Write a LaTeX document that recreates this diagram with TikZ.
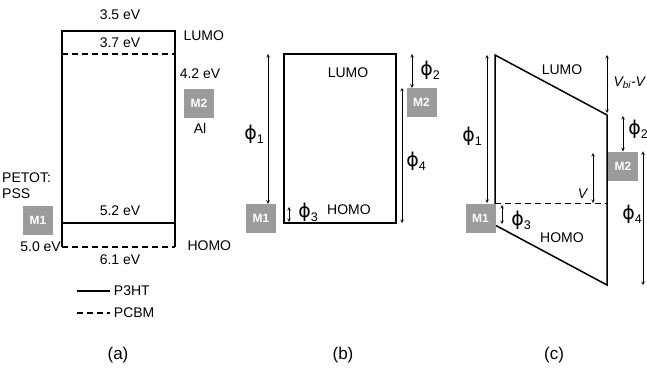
\documentclass[tikz,border=0pt]{standalone}
\usepackage{fontspec}
\setmainfont{Liberation Sans}
\newfontfamily\phifont{DejaVu Sans}
\usepackage{xcolor}
\definecolor{metalgray}{RGB}{155,155,155}
\newcommand{\wf}[1]{{\phifont\fontsize{19}{21}\selectfont ϕ}\raisebox{-4pt}{\fontsize{12.5}{14}\selectfont #1}}

\begin{document}
\begin{tikzpicture}[x=1pt, y=-1pt,
  every node/.style={font=\fontsize{14}{16}\selectfont},
  level/.style={line width=1.5pt},
  pcbm/.style={line width=1.3pt, dash pattern=on 6pt off 4pt},
  gap/.style={<->, >=stealth, line width=0.6pt},
  caption/.style={font=\fontsize{17}{20}\selectfont},
  metal/.style={fill=metalgray, text=white, font=\fontsize{12}{14}\selectfont\bfseries,
    minimum width=30pt, minimum height=29pt, inner sep=0pt}]
  \useasboundingbox (0,0) rectangle (647,369);

  % (a) Рівні енергії окремих матеріалів
  \coordinate (aTL) at (62,31);
  \coordinate (aTR) at (175,31);
  \coordinate (aBL) at (62,247);
  \coordinate (aBR) at (175,247);
  \draw[level] (aBL) -- (aTL) -- (aTR) -- (aBR);
  \draw[level] (aTL |- 0,223) coordinate (aHL) -- (aTR |- 0,223) coordinate (aHR);
  \draw[pcbm] (aTL |- 0,54) coordinate (aLL) -- (aTR |- 0,54) coordinate (aLR);
  \draw[pcbm] (aBL) -- (aBR);

  \node (e35) at (120,15) {3.5 eV};
  \node (e37) at (120,43) {3.7 eV};
  \node (e52) at (120,211) {5.2 eV};
  \node (e61) at (120,260) {6.1 eV};
  \node[left, inner sep=1pt] (e50) at (aBL) {5.0 eV};
  \node[anchor=west] (lumoA) at (180,36) {LUMO};
  \node[anchor=west] (homoA) at (184,246) {HOMO};
  \node (e42) at (200,74) {4.2 eV};
  \node[metal] (M2a) at (199,103) {M2};
  \node (al) at (200,128) {Al};
  \node[anchor=west, align=left, inner sep=0pt] (pss) at (2,186) {PETOT:\\PSS};
  \node[metal] (M1a) at (38,220) {M1};

  % легенда
  \coordinate (legA) at (77,291);
  \coordinate (legB) at (77,313);
  \draw[level, line width=1.2pt] (legA) -- ++(33,0) node[right] (p3ht) {P3HT};
  \draw[pcbm, line width=1.2pt] (legB) -- ++(33,0) node[right] (pcbm) {PCBM};

  % (b) Плоскі зони
  \draw[level] (284,54) rectangle (396,223);
  \node (lumoB) at (348,73) {LUMO};
  \node (homoB) at (349,210) {HOMO};
  \node[metal] (M1b) at (261,218.5) {M1};
  \node[metal] (M2b) at (421.5,102.5) {M2};

  \coordinate (b1) at (268,54);
  \coordinate (b3) at (289,207);
  \coordinate (b2) at (412,54);
  \coordinate (b4) at (402,223);
  \draw[gap] (b1) -- (b1 |- M1b.north);
  \draw[gap] (b3) -- ++(0,15);
  \draw[gap] (b2) -- (b2 |- M2b.north);
  \draw[gap] (b4 |- M2b.north) -- (b4);
  \node (f1b) at (254,134) {\wf{1}};
  \node (f3b) at (308,212) {\wf{3}};
  \node (f2b) at (430,70) {\wf{2}};
  \node (f4b) at (416,161) {\wf{4}};

  % (c) Нахилені зони під напругою
  \coordinate (cLT) at (495,55);
  \coordinate (cRT) at (607,115);
  \coordinate (cRB) at (607,285);
  \coordinate (cLB) at (495,225);
  \draw[level] (cLB) -- (cLT) -- (cRT) -- (cRB) -- cycle;
  \draw[pcbm, line width=1pt] (cLT |- 0,203) coordinate (cFL) -- (cRT |- 0,203) coordinate (cFR);
  \node (lumoC) at (562,70) {LUMO};
  \node (homoC) at (562,238) {HOMO};
  \node[metal] (M1c) at (480.5,218.5) {M1};
  \node[metal] (M2c) at (623,166) {M2};

  \coordinate (c1) at (487,55);
  \coordinate (c3) at (502,205);
  \coordinate (cv) at (593,153);
  \coordinate (cbi) at (607,55);
  \coordinate (c2) at (623,116);
  \coordinate (c4) at (643,285);
  \draw[gap] (c1) -- (c1 |- cFL);
  \draw[gap] (c3) -- ++(0,19);
  \draw[gap] (cv) -- (cv |- cFL);
  \draw[gap] (cbi) -- ++(0,58);
  \draw[gap] (c2) -- (c2 |- M2c.north);
  \draw[gap] (c4 |- M2c.north) -- (c4);
  \node (f1c) at (472,136) {\wf{1}};
  \node (f3c) at (521,220) {\wf{3}};
  \node (vc) at (583,194) {\textit{V}};
  \node[anchor=west] (vbi) at (610,83) {\textit{V\textsubscript{bi}-V}};
  \node (f2c) at (638,129) {\wf{2}};
  \node (f4c) at (632,214) {\wf{4}};

  % підписи панелей
  \node[caption] (capA) at (118,355) {(a)};
  \node[caption] (capB) at (343,355) {(b)};
  \node[caption] (capC) at (554,355) {(c)};
\end{tikzpicture}
\end{document}
